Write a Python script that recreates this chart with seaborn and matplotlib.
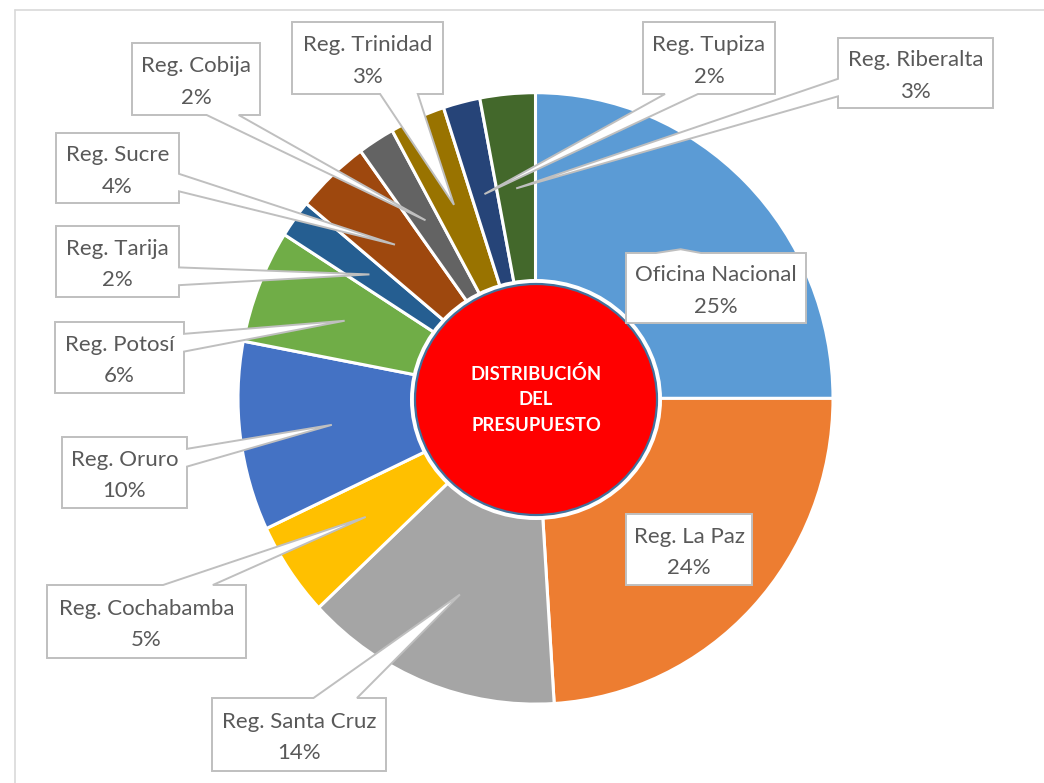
import numpy as np
import seaborn as sns
import matplotlib.pyplot as plt
from matplotlib.patches import Polygon, Ellipse
from matplotlib.lines import Line2D

# datos (en orden de Excel, sentido horario desde arriba)
regiones = ['Oficina Nacional', 'Reg. La Paz', 'Reg. Santa Cruz', 'Reg. Cochabamba',
            'Reg. Oruro', 'Reg. Potosí', 'Reg. Tarija', 'Reg. Sucre', 'Reg. Cobija',
            'Reg. Trinidad', 'Reg. Tupiza', 'Reg. Riberalta']
porcentajes = [25, 24, 14, 5, 10, 6, 2, 4, 2, 3, 2, 3]
colores = ['#5B9BD5', '#ED7D31', '#A5A5A5', '#FFC000', '#4472C4', '#70AD47',
           '#255E91', '#9E480E', '#636363', '#997300', '#264478', '#43682B']
titulo_centro = 'DISTRIBUCIÓN\nDEL\nPRESUPUESTO'

# cajas de las etiquetas en pixeles (x0, y0, x1, y1)
cajas = [(626, 253, 806, 323), (626, 514, 752, 585), (212, 698, 386, 771),
         (47, 585, 246, 658), (62, 437, 187, 508), (55, 322, 184, 393),
         (56, 226, 179, 297), (56, 133, 179, 203), (132, 43, 260, 115),
         (292, 22, 443, 94), (643, 22, 775, 94), (838, 38, 993, 108)]

W, H = 1044, 783
CX, CY, RX, RY = 535.5, 398.4, 297.5, 305.7


def to_data(px, py):
    return ((px - CX) / RX, (CY - py) / RY)


def callout(box, tip):
    x0, y0, x1, y1 = box
    w, h = x1 - x0, y1 - y0
    tx, ty = tip
    dx = (tx - (x0 + x1) / 2) / w
    dy = (ty - (y0 + y1) / 2) / h
    top = [(x0, y0), (x1, y0)]
    right = []
    bottom = [(x1, y1), (x0, y1)]
    left = []
    inside = x0 <= tx <= x1 and y0 <= ty <= y1
    if not inside:
        if abs(dx) > abs(dy):
            fr = (2 / 12, 5 / 12) if dy < 0 else (7 / 12, 10 / 12)
            ya, yb = y0 + h * fr[0], y0 + h * fr[1]
            if dx > 0:
                right = [(x1, ya), (tx, ty), (x1, yb)]
            else:
                left = [(x0, yb), (tx, ty), (x0, ya)]
        else:
            fr = (2 / 12, 5 / 12) if dx < 0 else (7 / 12, 10 / 12)
            xa, xb = x0 + w * fr[0], x0 + w * fr[1]
            if dy < 0:
                top = [(x0, y0), (xa, y0), (tx, ty), (xb, y0), (x1, y0)]
            else:
                bottom = [(x1, y1), (xb, y1), (tx, ty), (xa, y1), (x0, y1)]
    pts = top + right + bottom + left
    return [to_data(px, py) for px, py in pts]


sns.set_theme(style='white')
plt.rcParams['font.family'] = ['Lato', 'DejaVu Sans']
paleta = sns.color_palette(colores)

fig = plt.figure(figsize=(W / 100, H / 100), dpi=100)
ax = fig.add_axes([0, 0, 1, 1])

wedges, _ = ax.pie(porcentajes, colors=paleta, startangle=90, counterclock=False,
                   radius=1, center=(0, 0),
                   wedgeprops=dict(edgecolor='white', linewidth=2.2))
ax.set_aspect('auto')
ax.set_xlim(to_data(0, 0)[0], to_data(W, 0)[0])
ax.set_ylim(to_data(0, H)[1], to_data(0, 0)[1])
ax.axis('off')

# circulo central
cx, cy = to_data(536, 399.5)
ax.add_patch(Ellipse((cx, cy), 252 / RX, 241 / RY, facecolor='white',
                     edgecolor='none', zorder=3))
ax.add_patch(Ellipse((cx, cy), 242 / RX, 231 / RY, facecolor='#FF0000',
                     edgecolor='#41719C', linewidth=1.6, zorder=4))
ax.text(cx, cy, titulo_centro, ha='center', va='center', color='white',
        fontsize=13.3, fontweight='bold', linespacing=1.58, zorder=5)

# etiquetas tipo globo
for w, nombre, pct, box in zip(wedges, regiones, porcentajes, cajas):
    ang = np.deg2rad((w.theta1 + w.theta2) / 2)
    tip_x = CX + 0.69 * np.cos(ang) * RX
    tip_y = CY - 0.69 * np.sin(ang) * RY
    ax.add_patch(Polygon(callout(box, (tip_x, tip_y)), closed=True,
                         facecolor='white', edgecolor='#BFBFBF',
                         linewidth=1.4, zorder=6))
    tx, ty = to_data((box[0] + box[2]) / 2, (box[1] + box[3]) / 2 + 3)
    ax.text(tx, ty, f'{nombre}\n{pct}%', ha='center', va='center',
            color='#595959', fontsize=16, linespacing=1.7, zorder=7)

# borde del area del grafico
fig.add_artist(Line2D([15 / W, 1], [1 - 10 / H, 1 - 10 / H], color='#D9D9D9',
                      linewidth=1.2, transform=fig.transFigure))
fig.add_artist(Line2D([15 / W, 15 / W], [0, 1 - 10 / H], color='#D9D9D9',
                      linewidth=1.2, transform=fig.transFigure))

fig.savefig('out.png', dpi=100)
